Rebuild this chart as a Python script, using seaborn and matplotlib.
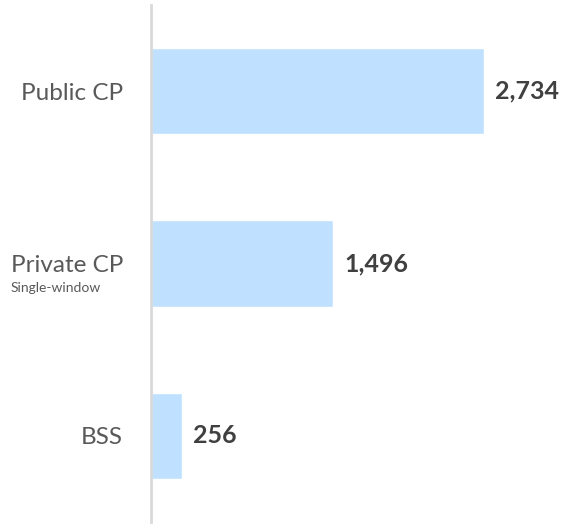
import matplotlib
matplotlib.use("Agg")
import matplotlib.pyplot as plt
import matplotlib.transforms as mtransforms
import seaborn as sns
import pandas as pd

categories = ["Public CP", "Private CP", "BSS"]
values = [2734, 1496, 256]
value_labels = ["2,734", "1,496", "256"]
sublabel = "Single-window"

sns.set_theme(style="white")
plt.rcParams["font.family"] = ["Lato", "DejaVu Sans"]

df = pd.DataFrame({"category": categories, "value": values})

fig = plt.figure(figsize=(5.63, 5.26), dpi=100)
ax = fig.add_axes([151 / 563, 4 / 526, 412 / 563, 517 / 526])

sns.barplot(data=df, y="category", x="value", orient="h", color="#BFE1FF",
            saturation=1, width=0.5, ax=ax)

ax.set_xlim(0, 3380)
ax.set_ylim(2.5, -0.5)
ax.set_xlabel("")
ax.set_ylabel("")
ax.set_xticks([])
for s in ["top", "right", "bottom"]:
    ax.spines[s].set_visible(False)
ax.spines["left"].set_color("#D9D9D9")
ax.spines["left"].set_linewidth(2)

ax.tick_params(axis="y", length=0, pad=20)
for lbl in ax.get_yticklabels():
    lbl.set_fontsize(17.5)
    lbl.set_color("#595959")

ax.bar_label(ax.containers[0], labels=value_labels, padding=8,
             fontsize=18, fontweight="bold", color="#404040")

# sub label under "Private CP"
trans = mtransforms.blended_transform_factory(fig.transFigure, ax.transData)
ax.text(11 / 563, 1 + 0.145, sublabel, transform=trans, fontsize=10,
        color="#595959", ha="left", va="center")

fig.savefig("out.png", dpi=100)
